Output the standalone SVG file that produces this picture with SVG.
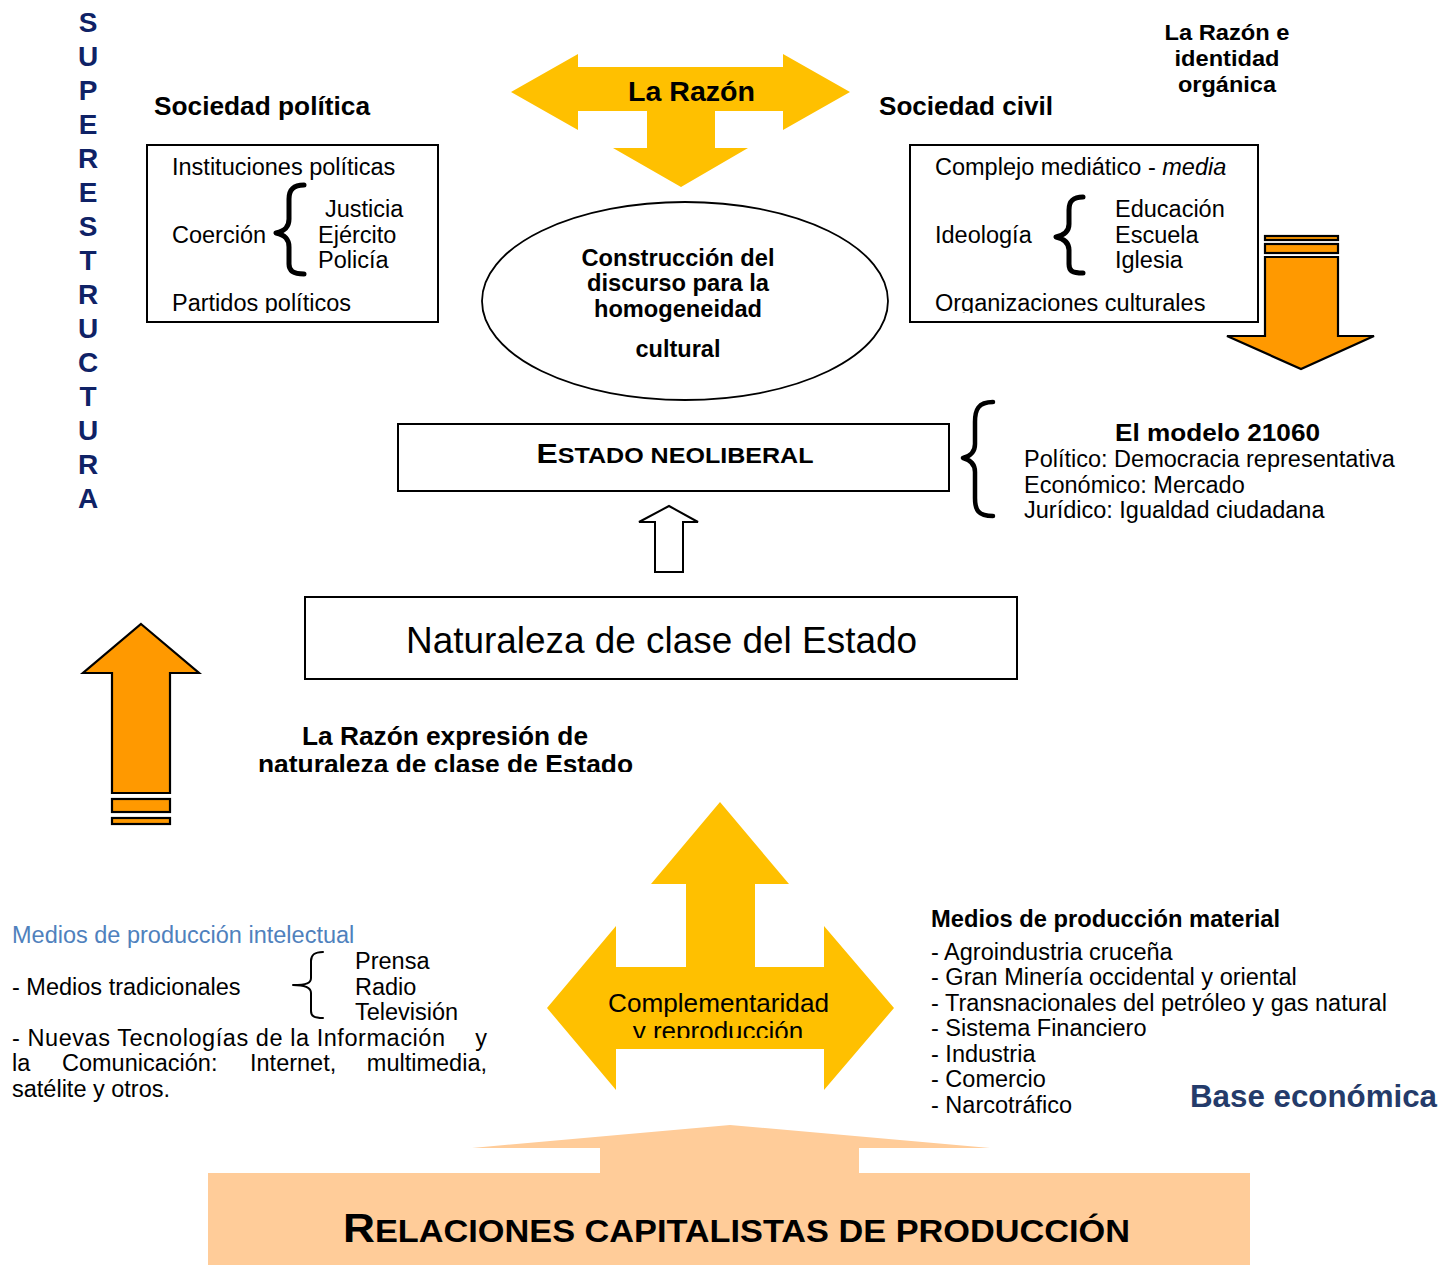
<svg xmlns="http://www.w3.org/2000/svg" width="1441" height="1265" viewBox="0 0 1441 1265">
<defs>
<style>
text{font-family:"Liberation Sans",Arial,sans-serif;fill:#000}
.n{font-size:23.5px}
.b{font-weight:bold}
.box{fill:#fff;stroke:#000;stroke-width:2}
.yel{fill:#FFC000}
.org{fill:#FF9900;stroke:#000;stroke-width:2.2;stroke-linejoin:miter}
.brace{fill:none;stroke:#000;stroke-linecap:round;stroke-linejoin:round}
.sup{font-size:28px;font-weight:bold;fill:#0F2266}
</style>
<clipPath id="clipSP"><rect x="147" y="144" width="291" height="169"/></clipPath>
<clipPath id="clipSC"><rect x="910" y="144" width="348" height="169"/></clipPath>
<clipPath id="clipComp"><rect x="560" y="960" width="330" height="78"/></clipPath>
<clipPath id="clipRaz"><rect x="240" y="715" width="420" height="57"/></clipPath>
</defs>

<g id="superestructura">
<text class="sup" x="88" y="32" text-anchor="middle">S</text>
<text class="sup" x="88" y="66" text-anchor="middle">U</text>
<text class="sup" x="88" y="100" text-anchor="middle">P</text>
<text class="sup" x="88" y="134" text-anchor="middle">E</text>
<text class="sup" x="88" y="168" text-anchor="middle">R</text>
<text class="sup" x="88" y="202" text-anchor="middle">E</text>
<text class="sup" x="88" y="236" text-anchor="middle">S</text>
<text class="sup" x="88" y="270" text-anchor="middle">T</text>
<text class="sup" x="88" y="304" text-anchor="middle">R</text>
<text class="sup" x="88" y="338" text-anchor="middle">U</text>
<text class="sup" x="88" y="372" text-anchor="middle">C</text>
<text class="sup" x="88" y="406" text-anchor="middle">T</text>
<text class="sup" x="88" y="440" text-anchor="middle">U</text>
<text class="sup" x="88" y="474" text-anchor="middle">R</text>
<text class="sup" x="88" y="508" text-anchor="middle">A</text>
</g>

<g id="connectors">
<path id="arrow-razon" class="yel" d="M511,92 L578,54 L578,67 L783,67 L783,54 L850,92 L783,130 L783,111 L715,111 L715,148 L748,148 L681,187 L613,148 L647,148 L647,111 L578,111 L578,130 Z"/>
<g id="arrow-right-down">
<rect class="org" x="1265" y="236" width="73" height="4"/>
<rect class="org" x="1265" y="244" width="73" height="9"/>
<path class="org" d="M1265,257 L1338,257 L1338,336 L1374,336 L1301,369 L1227,336 L1265,336 Z"/>
</g>
<g id="arrow-left-up">
<path class="org" d="M141,624 L199,673 L170,673 L170,793 L112,793 L112,673 L83,673 Z"/>
<rect class="org" x="112" y="799" width="58" height="13"/>
<rect class="org" x="112" y="818" width="58" height="6"/>
</g>
<path id="arrow-estado" d="M669,506 L698,522 L683,522 L683,572 L655,572 L655,522 L639,522 Z" fill="#fff" stroke="#000" stroke-width="2"/>
<path id="arrow-complementaridad" class="yel" d="M720,802 L789,884 L755,884 L755,967 L824,967 L824,926 L894,1008 L824,1090 L824,1049 L616,1049 L616,1090 L547,1008 L616,926 L616,967 L686,967 L686,884 L651,884 Z"/>
</g>

<g id="la-razon-label">
<text class="b" x="628" y="101" font-size="28" textLength="127" lengthAdjust="spacingAndGlyphs">La Razón</text>
</g>

<g id="sociedad-politica">
<text class="b" x="154" y="115" font-size="26" textLength="216" lengthAdjust="spacingAndGlyphs">Sociedad política</text>
<rect class="box" x="147" y="145" width="291" height="177"/>
<g clip-path="url(#clipSP)">
<text class="n" x="172" y="175">Instituciones políticas</text>
<text class="n" x="172" y="243">Coerción</text>
<text class="n" x="325" y="217">Justicia</text>
<text class="n" x="318" y="243">Ejército</text>
<text class="n" x="318" y="268">Policía</text>
<text class="n" x="172" y="311">Partidos políticos</text>
</g>
<path class="brace" stroke-width="5" d="M304,185 C293,185 289,190 289,199 L289,219 C289,227 285,231 276,233 C285,235 289,239 289,247 L289,264 C289,271 293,274 304,274"/>
</g>

<g id="sociedad-civil">
<text class="b" x="879" y="115" font-size="26" textLength="174" lengthAdjust="spacingAndGlyphs">Sociedad civil</text>
<rect class="box" x="910" y="145" width="348" height="177"/>
<g clip-path="url(#clipSC)">
<text class="n" x="935" y="175">Complejo mediático - <tspan font-style="italic">media</tspan></text>
<text class="n" x="935" y="243">Ideología</text>
<text class="n" x="1115" y="217">Educación</text>
<text class="n" x="1115" y="243">Escuela</text>
<text class="n" x="1115" y="268">Iglesia</text>
<text class="n" x="935" y="311">Organizaciones culturales</text>
</g>
<path class="brace" stroke-width="5" d="M1083,197 C1072,197 1069,202 1069,210 L1069,224 C1069,231 1065,235 1056,237 C1065,239 1069,243 1069,250 L1069,264 C1069,271 1072,273 1083,273"/>
</g>

<g id="razon-identidad">
<text class="b" x="1227" y="40" font-size="22.5" text-anchor="middle" textLength="125" lengthAdjust="spacingAndGlyphs">La Razón e</text>
<text class="b" x="1227" y="66" font-size="22.5" text-anchor="middle" textLength="105" lengthAdjust="spacingAndGlyphs">identidad</text>
<text class="b" x="1227" y="92" font-size="22.5" text-anchor="middle" textLength="98" lengthAdjust="spacingAndGlyphs">orgánica</text>
</g>

<g id="construccion">
<ellipse cx="685" cy="301" rx="203" ry="99" fill="#fff" stroke="#000" stroke-width="1.8"/>
<text class="b" x="678" y="266" font-size="23" text-anchor="middle" textLength="193" lengthAdjust="spacingAndGlyphs">Construcción del</text>
<text class="b" x="678" y="291" font-size="23" text-anchor="middle" textLength="182" lengthAdjust="spacingAndGlyphs">discurso para la</text>
<text class="b" x="678" y="317" font-size="23" text-anchor="middle" textLength="168" lengthAdjust="spacingAndGlyphs">homogeneidad</text>
<text class="b" x="678" y="357" font-size="23" text-anchor="middle" textLength="85" lengthAdjust="spacingAndGlyphs">cultural</text>
</g>

<g id="estado-neoliberal">
<rect class="box" x="398" y="424" width="551" height="67"/>
<text class="b" x="675" y="463" text-anchor="middle" font-size="22" textLength="277" lengthAdjust="spacingAndGlyphs"><tspan font-size="28">E</tspan>STADO NEOLIBERAL</text>
</g>

<g id="modelo-21060">
<path class="brace" stroke-width="4.5" d="M993,402 C978,402 975,410 975,422 L975,444 C975,452 971,456 963,458 C971,460 975,464 975,472 L975,498 C975,510 978,516 993,516"/>
<text class="b" x="1115" y="441" font-size="24.5" textLength="205" lengthAdjust="spacingAndGlyphs">El modelo 21060</text>
<text class="n" x="1024" y="467">Político: Democracia representativa</text>
<text class="n" x="1024" y="493">Económico: Mercado</text>
<text class="n" x="1024" y="518">Jurídico: Igualdad ciudadana</text>
</g>

<g id="naturaleza">
<rect class="box" x="305" y="597" width="712" height="82"/>
<text x="406" y="653" font-size="37" textLength="511" lengthAdjust="spacingAndGlyphs">Naturaleza de clase del Estado</text>
</g>

<g id="razon-expresion" clip-path="url(#clipRaz)">
<text class="b" x="302" y="745" font-size="25" textLength="286" lengthAdjust="spacingAndGlyphs">La Razón expresión de</text>
<text class="b" x="258" y="773" font-size="25" textLength="375" lengthAdjust="spacingAndGlyphs">naturaleza de clase de Estado</text>
</g>

<g id="complementaridad-label" clip-path="url(#clipComp)">
<text x="608" y="1012" font-size="26" textLength="221" lengthAdjust="spacingAndGlyphs">Complementaridad</text>
<text x="718" y="1040" font-size="26" text-anchor="middle">y reproducción</text>
</g>

<g id="medios-intelectual">
<text class="n" x="12" y="943" style="fill:#4F81BD">Medios de producción intelectual</text>
<text class="n" x="12" y="995">- Medios tradicionales</text>
<path class="brace" stroke-width="2" d="M323,952 C314,952 311,955 311,961 L311,978 C311,983 307,985 293,985 C307,985 311,988 311,993 L311,1011 C311,1016 314,1018 323,1018"/>
<text class="n" x="355" y="969">Prensa</text>
<text class="n" x="355" y="995">Radio</text>
<text class="n" x="355" y="1020">Televisión</text>
<text class="n" x="12" y="1046" textLength="433" lengthAdjust="spacing">- Nuevas Tecnologías de la Información</text>
<text class="n" x="487" y="1046" text-anchor="end">y</text>
<text class="n" x="12" y="1071">la</text>
<text class="n" x="62" y="1071">Comunicación:</text>
<text class="n" x="250" y="1071">Internet,</text>
<text class="n" x="487" y="1071" text-anchor="end">multimedia,</text>
<text class="n" x="12" y="1097">satélite y otros.</text>
</g>

<g id="medios-material">
<text class="b" x="931" y="927" font-size="23" textLength="349" lengthAdjust="spacingAndGlyphs">Medios de producción material</text>
<text class="n" x="931" y="960">- Agroindustria cruceña</text>
<text class="n" x="931" y="985">- Gran Minería occidental y oriental</text>
<text class="n" x="931" y="1011">- Transnacionales del petróleo y gas natural</text>
<text class="n" x="931" y="1036">- Sistema Financiero</text>
<text class="n" x="931" y="1062">- Industria</text>
<text class="n" x="931" y="1087">- Comercio</text>
<text class="n" x="931" y="1113">- Narcotráfico</text>
</g>

<g id="base-economica">
<text class="b" x="1190" y="1107" font-size="31" textLength="247" lengthAdjust="spacingAndGlyphs" style="fill:#243B6A">Base económica</text>
</g>

<g id="relaciones">
<path d="M472,1148 L730,1125 L990,1148 L859,1148 L859,1173 L1250,1173 L1250,1265 L208,1265 L208,1173 L600,1173 L600,1148 Z" fill="#FFCC99"/>
<text class="b" x="343" y="1242" font-size="31" textLength="787" lengthAdjust="spacingAndGlyphs"><tspan font-size="40">R</tspan>ELACIONES CAPITALISTAS DE PRODUCCIÓN</text>
</g>
</svg>
